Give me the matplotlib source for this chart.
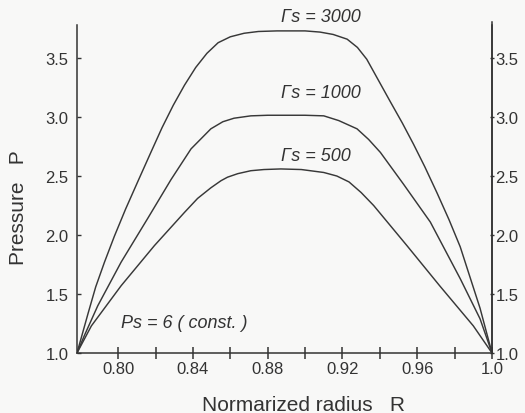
"""Pressure distribution along normalized radius for several Gamma_s values."""

import matplotlib
matplotlib.use("Agg")
import matplotlib.pyplot as plt

plt.rcParams["font.family"] = ["Liberation Sans", "DejaVu Sans"]

# Gamma_s = 3000
r_3000 = [0.778, 0.781, 0.784, 0.788, 0.7927, 0.798, 0.804, 0.811, 0.8175, 0.8235,
          0.8295, 0.8355, 0.8415, 0.8475, 0.8535, 0.860, 0.8674, 0.875, 0.885, 0.90,
          0.908, 0.915, 0.9225, 0.928, 0.933, 0.9456, 0.952, 0.958, 0.964, 0.9705,
          0.977, 0.983, 0.9885, 0.9936, 1.0]
p_3000 = [1.0, 1.17, 1.34, 1.56, 1.77, 1.99, 2.22, 2.47, 2.70, 2.91,
          3.10, 3.27, 3.42, 3.54, 3.63, 3.68, 3.71, 3.725, 3.73, 3.73,
          3.72, 3.70, 3.66, 3.59, 3.49, 3.13, 2.95, 2.77, 2.58, 2.36,
          2.13, 1.90, 1.63, 1.38, 1.0]

# Gamma_s = 1000
r_1000 = [0.778, 0.782, 0.7891, 0.8016, 0.8158, 0.8283, 0.839, 0.8496, 0.856, 0.862,
          0.871, 0.88, 0.90, 0.910, 0.918, 0.9278, 0.934, 0.9403, 0.9527, 0.967,
          0.983, 0.9936, 1.0]
p_1000 = [1.0, 1.15, 1.40, 1.77, 2.14, 2.47, 2.73, 2.90, 2.96, 2.99,
          3.01, 3.015, 3.015, 3.01, 2.97, 2.90, 2.81, 2.70, 2.43, 2.11,
          1.63, 1.29, 1.0]

# Gamma_s = 500
r_500 = [0.778, 0.7857, 0.8016, 0.8194, 0.8354, 0.8425, 0.8496, 0.855, 0.8585, 0.864,
         0.871, 0.878, 0.887, 0.898, 0.91, 0.917, 0.9235, 0.93, 0.9367, 0.9545,
         0.972, 0.99, 1.0]
p_500 = [1.0, 1.23, 1.57, 1.91, 2.19, 2.31, 2.40, 2.46, 2.49, 2.52,
         2.545, 2.555, 2.56, 2.555, 2.53, 2.50, 2.45, 2.36, 2.25, 1.91,
         1.57, 1.23, 1.0]

curve_labels = ["\u0393s = 3000", "\u0393s = 1000", "\u0393s = 500"]

x_major = [0.80, 0.84, 0.88, 0.92, 0.96, 1.0]
x_major_labels = ["0.80", "0.84", "0.88", "0.92", "0.96", "1.0"]
x_minor = [0.82, 0.86, 0.90, 0.94, 0.98]
y_ticks = [1.0, 1.5, 2.0, 2.5, 3.0, 3.5]
y_tick_labels = ["1.0", "1.5", "2.0", "2.5", "3.0", "3.5"]

bg = "#f8f8f7"
ink = "#333333"

fig = plt.figure(figsize=(5.25, 4.14), dpi=100, facecolor=bg)
ax = fig.add_axes([77 / 525, 60 / 414, 415 / 525, 328 / 414])
ax.set_facecolor(bg)

for r, p in [(r_3000, p_3000), (r_1000, p_1000), (r_500, p_500)]:
    ax.plot(r, p, color="#383838", lw=1.05)

ax.set_xlim(0.778, 1.0)
ax.set_ylim(1.0, 3.78)

ax.spines["top"].set_visible(False)
for s in ["left", "bottom", "right"]:
    ax.spines[s].set_color(ink)
    ax.spines[s].set_linewidth(1.1)

ax.set_xticks(x_major)
ax.set_xticklabels(x_major_labels)
ax.set_xticks(x_minor, minor=True)
ax.tick_params(axis="x", which="both", direction="inout", length=8, width=1.1,
               color=ink, labelcolor=ink, labelsize=12, pad=2)
ax.set_yticks(y_ticks)
ax.set_yticklabels(y_tick_labels)
ax.tick_params(axis="y", direction="in", length=3, width=1.0, color=ink,
               labelcolor=ink, labelsize=12, pad=6)

ax2 = ax.twinx()
ax2.set_ylim(ax.get_ylim())
ax2.set_yticks(y_ticks)
ax2.set_yticklabels(y_tick_labels)
ax2.tick_params(axis="y", direction="inout", length=3, width=1.0, color=ink,
                labelcolor=ink, labelsize=12, pad=1)
for s in ["top", "left", "bottom"]:
    ax2.spines[s].set_visible(False)
ax2.spines["right"].set_color(ink)
ax2.spines["right"].set_linewidth(1.1)
ax2.spines["right"].set_bounds(1.0, 3.805)

ax.set_xlabel("Normarized radius   R", fontsize=15, color=ink)
ax.xaxis.set_label_coords(0.545, -0.128)
ax.set_ylabel("Pressure   P", fontsize=15, color=ink)
ax.yaxis.set_label_coords(-0.118, 0.447)

for label, (x, y) in zip(curve_labels, [(0.9083, 3.855), (0.9083, 3.21), (0.9056, 2.67)]):
    ax.text(x, y, label, fontsize=13, style="italic", color=ink, ha="center", va="center")
ax.text(0.8352, 1.26, "Ps = 6 ( const. )", fontsize=13, style="italic",
        color=ink, ha="center", va="center")

fig.savefig("out.png", dpi=100, facecolor=bg)
